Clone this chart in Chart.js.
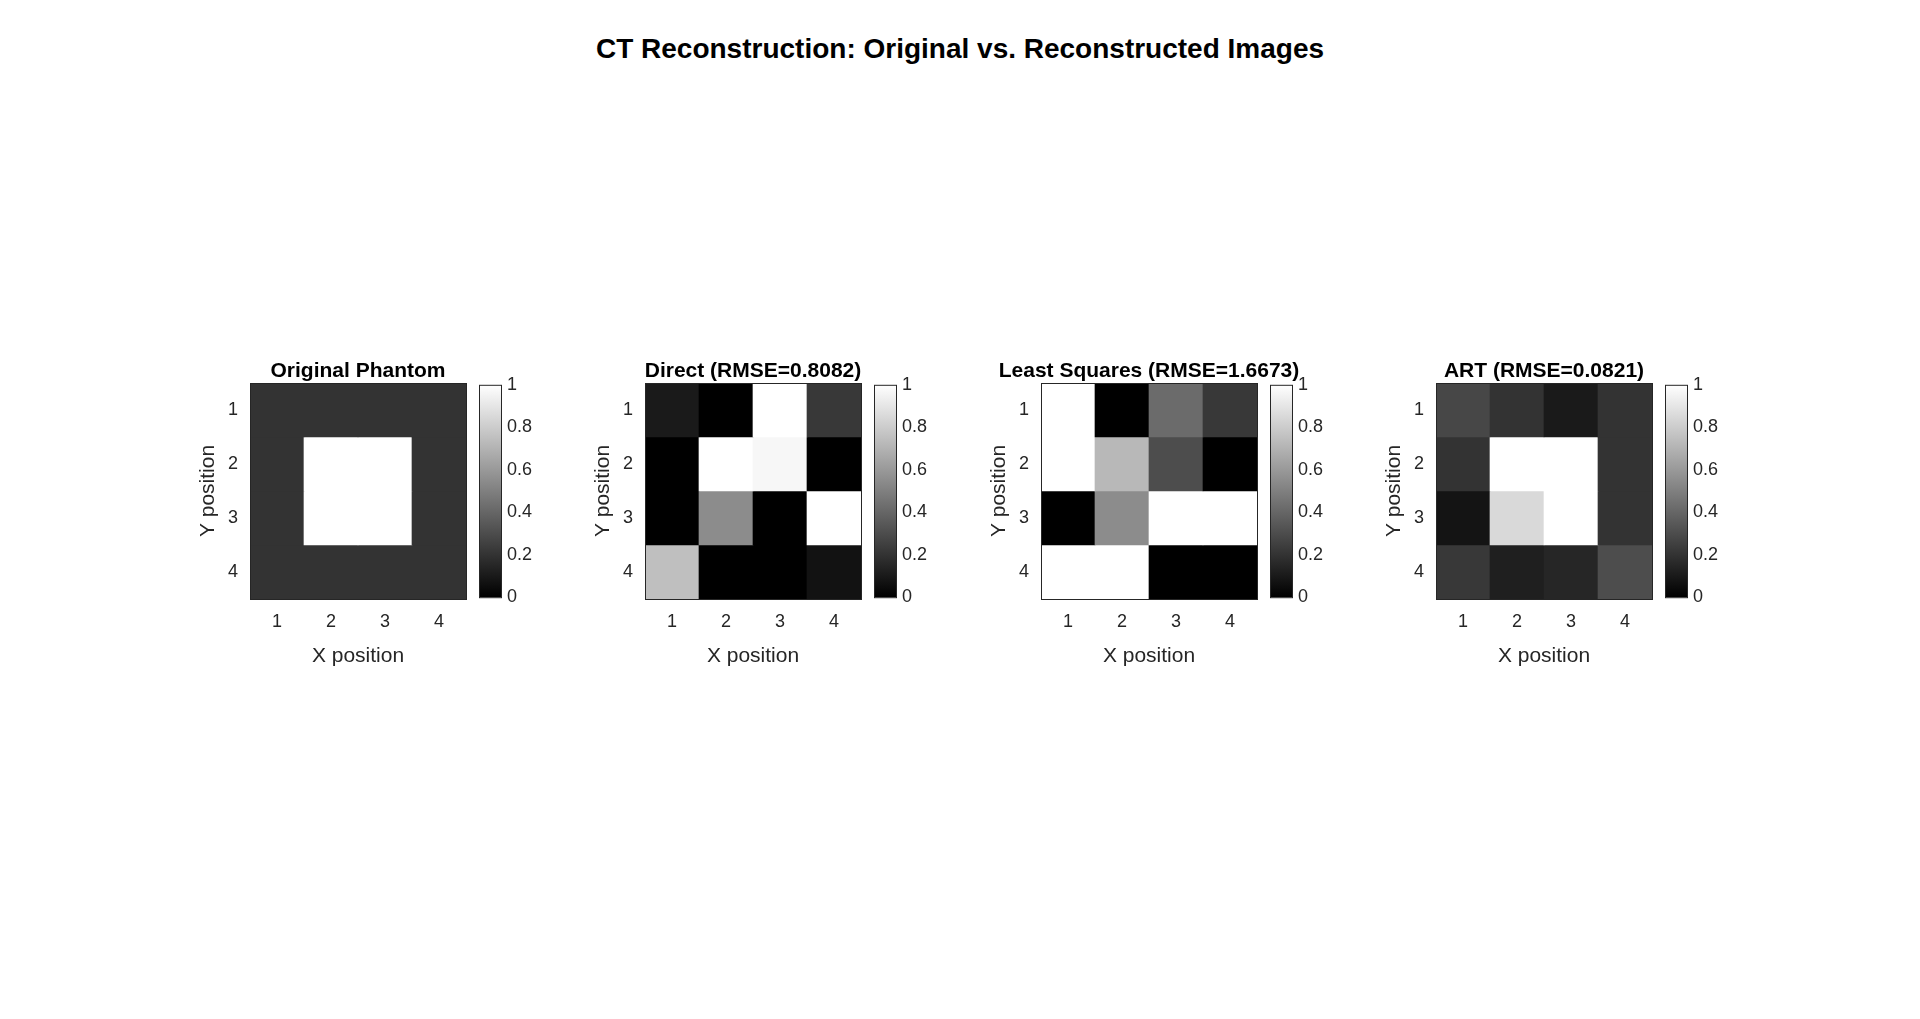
<!DOCTYPE html>
<html>
<head>
<meta charset="utf-8">
<script src="https://cdn.jsdelivr.net/npm/chart.js@4"></script>
<style>
  body { margin: 0; background: #fff; font-family: "Liberation Sans", Arial, sans-serif; }
  #page { position: relative; width: 1920px; height: 1019px; }
  #title { position: absolute; top: 33px; left: 0; width: 1920px; text-align: center; font-weight: bold; font-size: 28px; color: #000; }
  .box { position: absolute; }
</style>
</head>
<body>
<div id="page">
  <div id="title">CT Reconstruction: Original vs. Reconstructed Images</div>
</div>
<script>
// grid values, row 1 at top
const xLabels = ['1', '2', '3', '4'];
const rowIds = [1, 2, 3, 4];
const barTicks = [0, 0.2, 0.4, 0.6, 0.8, 1];

const titles = ['Original Phantom', 'Direct (RMSE=0.8082)', 'Least Squares (RMSE=1.6673)', 'ART (RMSE=0.0821)'];

const original = [
    [0.2, 0.2, 0.2, 0.2],
    [0.2, 1, 1, 0.2],
    [0.2, 1, 1, 0.2],
    [0.2, 0.2, 0.2, 0.2]
];
const direct = [
    [0.1, 0, 1, 0.22],
    [0, 1, 0.97, 0],
    [0, 0.55, 0, 1],
    [0.75, 0, 0, 0.07]
];
const leastSquares = [
    [1, 0, 0.42, 0.22],
    [1, 0.72, 0.3, 0],
    [0, 0.55, 1, 1],
    [1, 1, 0, 0]
];
const art = [
    [0.28, 0.2, 0.1, 0.2],
    [0.2, 1, 1, 0.2],
    [0.08, 0.85, 1, 0.2],
    [0.22, 0.12, 0.15, 0.3]
];
const grids = [original, direct, leastSquares, art];

// plot area left edges (px)
const plotLefts = [250, 645, 1041, 1436];
const plotTop = 383;
const plotSize = 216;

function gray(v) {
    const c = Math.round(Math.max(0, Math.min(1, v)) * 255);
    return `rgb(${c},${c},${c})`;
}

const frame = {
    id: 'frame',
    afterDraw(chart) {
        const a = chart.chartArea;
        const c = chart.ctx;
        c.save();
        c.strokeStyle = '#262626';
        c.lineWidth = 1;
        c.strokeRect(a.left + 0.5, a.top + 0.5, a.right - a.left, a.bottom - a.top);
        c.restore();
    }
};

// panel title centred over the plot area
const panelTitle = {
    id: 'panelTitle',
    afterDraw(chart, args, opts) {
        const a = chart.chartArea;
        const c = chart.ctx;
        c.save();
        c.fillStyle = '#000';
        c.font = 'bold 21px "Liberation Sans", Arial';
        c.textAlign = 'center';
        c.textBaseline = 'bottom';
        c.fillText(opts.text, (a.left + a.right) / 2, a.top - 1);
        c.restore();
    }
};

const tickFont = { family: 'Liberation Sans, Arial', size: 18 };
const axisFont = { family: 'Liberation Sans, Arial', size: 21 };
const page = document.getElementById('page');

function addBox(left, top, w, h) {
    const div = document.createElement('div');
    div.className = 'box';
    div.style.left = left + 'px';
    div.style.top = top + 'px';
    div.style.width = w + 'px';
    div.style.height = h + 'px';
    const cv = document.createElement('canvas');
    div.appendChild(cv);
    page.appendChild(div);
    return cv;
}

grids.forEach((grid, i) => {
    const yw = 54, xh = 72, th = 40;
    const cv = addBox(plotLefts[i] - yw, plotTop - th, plotSize + 2 * yw, plotSize + th + xh);
    new Chart(cv, {
        type: 'bar',
        data: {
            labels: xLabels,
            datasets: rowIds.map((r, ri) => ({
                data: grid[ri].map(() => [r - 0.5, r + 0.5]),
                backgroundColor: grid[ri].map(gray),
                borderWidth: 0,
                barPercentage: 1,
                categoryPercentage: 1,
                grouped: false
            }))
        },
        plugins: [frame, panelTitle],
        options: {
            responsive: true,
            maintainAspectRatio: false,
            animation: false,
            layout: { padding: { top: th, right: yw } },
            plugins: {
                legend: { display: false },
                tooltip: { enabled: false },
                panelTitle: { text: titles[i] }
            },
            scales: {
                x: {
                    grid: { display: false, drawTicks: false },
                    border: { display: false },
                    ticks: { color: '#262626', font: tickFont, padding: 12 },
                    title: { display: true, text: 'X position', color: '#262626', font: axisFont, padding: 2 },
                    afterFit(s) { s.height = xh; }
                },
                y: {
                    reverse: true,
                    min: 0.5,
                    max: 4.5,
                    afterBuildTicks(s) { s.ticks = rowIds.map(v => ({ value: v })); },
                    grid: { display: false, drawTicks: false },
                    border: { display: false },
                    ticks: { color: '#262626', font: tickFont, padding: 12 },
                    title: { display: true, text: 'Y position', color: '#262626', font: axisFont, padding: 0 },
                    afterFit(s) { s.width = yw; }
                }
            }
        }
    });
    const cb = addBox(plotLefts[i] + plotSize + 13, plotTop - 15, 70, plotSize + 30);
    new Chart(cb, {
        type: 'bar',
        data: {
            labels: [''],
            datasets: [{
                data: [[0, 1]],
                backgroundColor(ctx) {
                    const a = ctx.chart.chartArea;
                    if (!a) return '#888';
                    const g = ctx.chart.ctx.createLinearGradient(0, a.bottom, 0, a.top);
                    g.addColorStop(0, '#000');
                    g.addColorStop(1, '#fff');
                    return g;
                },
                borderWidth: 0,
                barPercentage: 1,
                categoryPercentage: 1
            }]
        },
        plugins: [frame],
        options: {
            responsive: true,
            maintainAspectRatio: false,
            animation: false,
            layout: { padding: { top: 15, bottom: 15 } },
            plugins: { legend: { display: false }, tooltip: { enabled: false } },
            scales: {
                x: { display: false },
                y: {
                    position: 'right',
                    min: 0,
                    max: 1,
                    afterBuildTicks(s) { s.ticks = barTicks.map(v => ({ value: v })); },
                    grid: { display: false, drawTicks: false },
                    border: { display: false },
                    ticks: { color: '#262626', font: tickFont, padding: 6, callback: v => String(v) },
                    afterFit(s) { s.width = 48; }
                }
            }
        }
    });
});
</script>
</body>
</html>
